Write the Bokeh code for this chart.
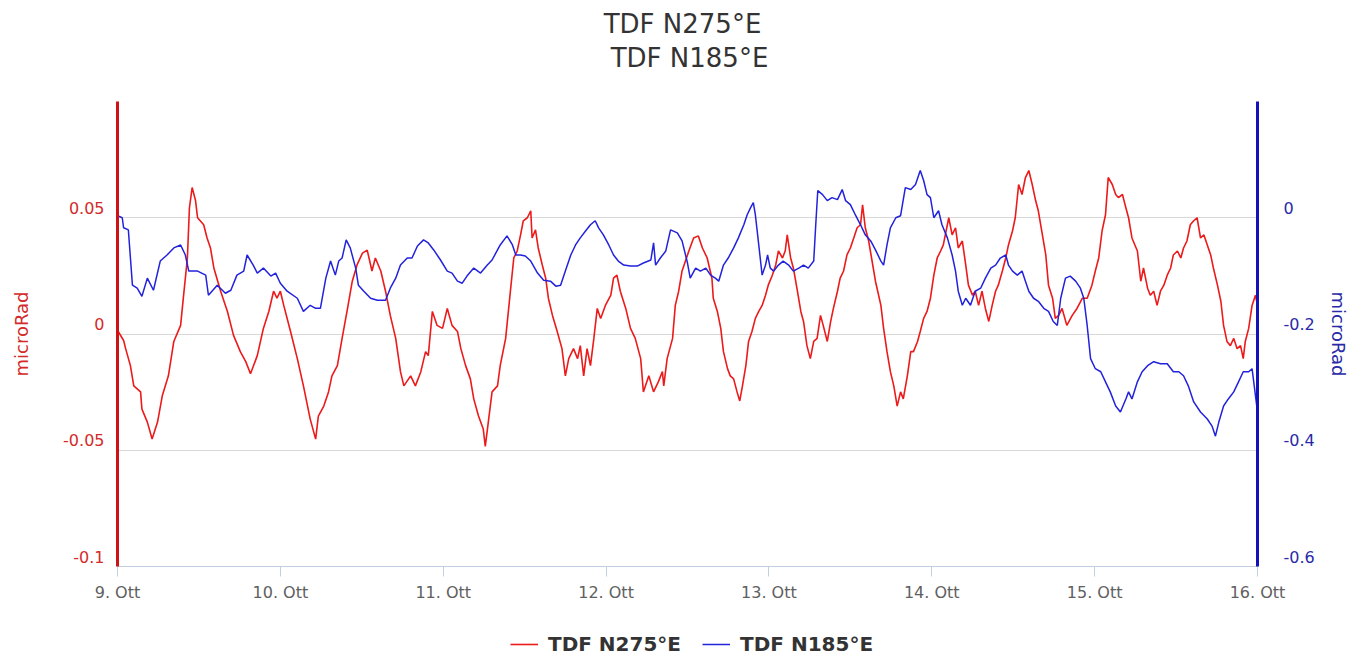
import math

from bokeh.embed import file_html
from bokeh.layouts import column
from bokeh.models import (FixedTicker, Grid, Label, Legend, LegendItem,
                          LinearAxis, Range1d)
from bokeh.plotting import figure
from bokeh.resources import INLINE

# Hours since 9 Oct 00:00 and tilt in microRad, TDF N275°E component (left axis)
tdf_n275e = [
    (0.0, 0.0016), (0.9, -0.0028), (1.2, -0.0063), (1.9, -0.0136), (2.4, -0.0223),
    (3.4, -0.0249), (3.6, -0.0323), (4.4, -0.0379), (5.1, -0.0452), (5.9, -0.0379),
    (6.6, -0.0266), (7.5, -0.0180), (8.3, -0.0032), (9.3, 0.0037), (9.7, 0.0154),
    (10.3, 0.0327), (10.6, 0.0543), (11.0, 0.0630), (11.5, 0.0574), (11.8, 0.0500),
    (12.7, 0.0470), (13.2, 0.0413), (13.7, 0.0370), (14.2, 0.0284), (15.2, 0.0184),
    (16.2, 0.0097), (17.1, -0.0006), (18.1, -0.0076), (18.9, -0.0119), (19.6, -0.0171),
    (20.6, -0.0093), (21.5, 0.0024), (22.3, 0.0097), (23.0, 0.0184), (23.5, 0.0154),
    (24.0, 0.0184), (24.5, 0.0123), (25.5, 0.0011), (26.5, -0.0106), (27.4, -0.0223),
    (28.4, -0.0366), (29.2, -0.0452), (29.6, -0.0353), (30.4, -0.0310), (31.1, -0.0249),
    (31.6, -0.0180), (32.4, -0.0136), (33.1, -0.0019), (33.9, 0.0110), (34.6, 0.0227),
    (35.3, 0.0297), (36.1, 0.0348), (36.8, 0.0361), (37.5, 0.0271), (38.0, 0.0327),
    (38.8, 0.0271), (39.5, 0.0184), (40.2, 0.0080), (41.0, -0.0019), (41.7, -0.0162),
    (42.2, -0.0223), (43.2, -0.0180), (43.9, -0.0223), (44.7, -0.0162), (45.4, -0.0076),
    (45.8, -0.0093), (46.4, 0.0097), (47.1, 0.0037), (47.9, 0.0024), (48.6, 0.0110),
    (49.3, 0.0037), (50.1, 0.0011), (50.6, -0.0063), (51.3, -0.0136), (52.0, -0.0193),
    (52.5, -0.0279), (53.2, -0.0353), (53.9, -0.0409), (54.2, -0.0483), (54.7, -0.0366),
    (55.2, -0.0249), (56.0, -0.0223), (56.4, -0.0136), (57.2, -0.0019), (57.9, 0.0184),
    (58.4, 0.0327), (58.9, 0.0357), (59.4, 0.0426), (59.8, 0.0487), (60.4, 0.0500),
    (60.9, 0.0530), (61.1, 0.0413), (61.6, 0.0448), (62.0, 0.0370), (62.6, 0.0297),
    (63.1, 0.0240), (63.5, 0.0154), (64.1, 0.0080), (64.8, 0.0011), (65.5, -0.0063),
    (66.0, -0.0180), (66.5, -0.0106), (67.2, -0.0063), (67.8, -0.0106), (68.2, -0.0050),
    (68.7, -0.0180), (69.2, -0.0063), (69.7, -0.0136), (70.2, -0.0019), (70.7, 0.0110),
    (71.2, 0.0067), (71.9, 0.0123), (72.7, 0.0167), (73.1, 0.0240), (73.6, 0.0253),
    (74.1, 0.0184), (74.9, 0.0110), (75.6, 0.0024), (76.3, -0.0019), (77.1, -0.0106),
    (77.5, -0.0249), (78.3, -0.0180), (79.0, -0.0249), (79.7, -0.0206), (80.3, -0.0162),
    (80.5, -0.0223), (81.0, -0.0106), (81.8, -0.0019), (82.2, 0.0123), (82.7, 0.0184),
    (83.2, 0.0271), (84.2, 0.0357), (84.9, 0.0413), (85.6, 0.0422), (86.2, 0.0370),
    (86.9, 0.0327), (87.6, 0.0240), (87.8, 0.0154), (88.4, 0.0097), (88.9, 0.0024),
    (89.3, -0.0076), (89.9, -0.0149), (90.3, -0.0180), (90.8, -0.0193), (91.3, -0.0249),
    (91.7, -0.0288), (92.1, -0.0223), (92.6, -0.0136), (93.0, -0.0032), (93.5, 0.0011),
    (94.0, 0.0067), (94.5, 0.0097), (95.0, 0.0123), (95.5, 0.0167), (95.9, 0.0210),
    (96.5, 0.0253), (97.0, 0.0297), (97.4, 0.0357), (98.0, 0.0327), (98.4, 0.0357),
    (98.7, 0.0426), (99.2, 0.0327), (99.6, 0.0284), (100.2, 0.0184), (100.7, 0.0097),
    (101.1, 0.0054), (101.6, -0.0050), (102.1, -0.0106), (102.6, -0.0032), (103.1, -0.0019),
    (103.6, 0.0080), (104.0, 0.0037), (104.6, -0.0032), (105.1, 0.0054), (105.5, 0.0110),
    (106.1, 0.0184), (106.5, 0.0240), (107.0, 0.0271), (107.5, 0.0340), (108.0, 0.0370),
    (108.5, 0.0413), (109.0, 0.0457), (109.5, 0.0470), (109.8, 0.0556), (110.2, 0.0457),
    (110.7, 0.0400), (111.2, 0.0314), (111.7, 0.0227), (112.5, 0.0123), (112.9, 0.0024),
    (113.4, -0.0076), (113.9, -0.0162), (114.4, -0.0223), (114.9, -0.0310), (115.4, -0.0249),
    (115.8, -0.0279), (116.4, -0.0180), (116.9, -0.0076), (117.3, -0.0076), (117.9, -0.0032),
    (118.3, 0.0011), (118.8, 0.0067), (119.3, 0.0097), (119.8, 0.0154), (120.3, 0.0253),
    (120.8, 0.0327), (121.3, 0.0357), (121.7, 0.0383), (122.5, 0.0500), (123.0, 0.0426),
    (123.5, 0.0457), (123.9, 0.0370), (124.5, 0.0400), (125.0, 0.0297), (125.4, 0.0210),
    (126.0, 0.0167), (126.4, 0.0184), (126.9, 0.0123), (127.4, 0.0184), (127.9, 0.0110),
    (128.4, 0.0054), (128.9, 0.0123), (129.4, 0.0184), (129.8, 0.0210), (130.4, 0.0271),
    (130.9, 0.0327), (131.3, 0.0383), (131.9, 0.0444), (132.3, 0.0500), (132.8, 0.0643),
    (133.3, 0.0600), (133.8, 0.0673), (134.3, 0.0703), (134.8, 0.0643), (135.3, 0.0574),
    (135.7, 0.0530), (136.3, 0.0426), (136.8, 0.0340), (137.2, 0.0210), (137.8, 0.0154),
    (138.2, 0.0067), (138.7, 0.0080), (139.2, 0.0110), (139.9, 0.0037), (140.7, 0.0080),
    (141.4, 0.0110), (142.2, 0.0154), (142.9, 0.0154), (143.6, 0.0210), (144.1, 0.0271),
    (144.6, 0.0327), (145.1, 0.0444), (145.6, 0.0513), (146.0, 0.0673), (146.6, 0.0643),
    (147.1, 0.0600), (147.5, 0.0587), (148.1, 0.0600), (148.6, 0.0543), (149.0, 0.0500),
    (149.5, 0.0413), (150.3, 0.0357), (150.8, 0.0227), (151.2, 0.0284), (151.8, 0.0197),
    (152.2, 0.0167), (152.7, 0.0184), (153.2, 0.0123), (153.7, 0.0184), (154.2, 0.0210),
    (154.7, 0.0253), (155.2, 0.0284), (155.6, 0.0340), (156.2, 0.0357), (156.7, 0.0327),
    (157.1, 0.0370), (157.6, 0.0400), (158.1, 0.0470), (158.6, 0.0487), (159.1, 0.0500),
    (159.6, 0.0413), (160.1, 0.0426), (160.6, 0.0383), (161.1, 0.0340), (161.5, 0.0284),
    (162.1, 0.0210), (162.6, 0.0141), (163.0, 0.0037), (163.5, -0.0032), (164.0, -0.0050),
    (164.5, -0.0019), (165.0, -0.0063), (165.5, -0.0050), (165.9, -0.0106), (166.2, -0.0032),
    (166.7, 0.0024), (167.2, 0.0123), (167.7, 0.0167), (168.0, 0.0123),
]

# Hours since 9 Oct 00:00 and tilt in microRad, TDF N185°E component (right axis)
tdf_n185e = [
    (0.0, 0.0035), (0.7, 0.0), (0.9, -0.0173), (1.6, -0.0208), (2.2, -0.1160),
    (2.9, -0.1212), (3.6, -0.1351), (4.4, -0.1039), (5.3, -0.1247), (6.3, -0.0745),
    (7.3, -0.0641), (8.3, -0.0519), (9.3, -0.0468), (10.0, -0.0641), (10.5, -0.0918),
    (11.8, -0.0918), (13.0, -0.0987), (13.4, -0.1333), (14.7, -0.1160), (15.9, -0.1299),
    (16.7, -0.1247), (17.6, -0.0987), (18.6, -0.0918), (19.1, -0.0641), (20.0, -0.0814),
    (20.6, -0.0952), (21.5, -0.0866), (22.6, -0.1004), (23.3, -0.0952), (24.0, -0.1126),
    (25.0, -0.1264), (26.5, -0.1385), (27.4, -0.1610), (28.4, -0.1506), (29.2, -0.1558),
    (29.9, -0.1558), (30.7, -0.1039), (31.4, -0.0745), (32.1, -0.0987), (32.6, -0.0745),
    (33.1, -0.0693), (33.7, -0.0381), (34.3, -0.0519), (35.1, -0.0866), (35.5, -0.1160),
    (36.3, -0.1264), (37.3, -0.1385), (38.3, -0.1420), (39.5, -0.1420), (40.2, -0.1212),
    (41.0, -0.1039), (41.7, -0.0814), (42.7, -0.0693), (43.4, -0.0693), (44.2, -0.0485),
    (45.1, -0.0381), (45.8, -0.0433), (46.6, -0.0554), (47.6, -0.0727), (48.6, -0.0918),
    (49.3, -0.0952), (50.1, -0.1091), (50.8, -0.1126), (51.5, -0.1004), (52.5, -0.0866),
    (53.5, -0.0952), (54.5, -0.0814), (55.2, -0.0727), (56.0, -0.0554), (56.4, -0.0468),
    (57.4, -0.0312), (58.2, -0.0468), (58.7, -0.0641), (59.4, -0.0641), (60.1, -0.0658),
    (60.9, -0.0745), (61.9, -0.0952), (62.8, -0.1074), (63.8, -0.1091), (64.6, -0.1177),
    (65.3, -0.1160), (66.0, -0.0918), (66.8, -0.0641), (67.5, -0.0468), (68.2, -0.0346),
    (69.0, -0.0225), (69.7, -0.0121), (70.4, -0.0052), (70.9, -0.0173), (71.6, -0.0294),
    (72.4, -0.0468), (73.1, -0.0641), (73.8, -0.0745), (74.6, -0.0814), (75.6, -0.0831),
    (76.6, -0.0831), (77.5, -0.0779), (78.6, -0.0727), (79.0, -0.0433), (79.3, -0.0814),
    (80.0, -0.0693), (80.8, -0.0571), (81.5, -0.0208), (82.5, -0.0260), (83.2, -0.0398),
    (84.0, -0.0779), (84.4, -0.1039), (85.2, -0.0866), (85.9, -0.0918), (86.7, -0.0866),
    (87.4, -0.0987), (88.1, -0.1039), (88.6, -0.1091), (89.3, -0.0814), (90.0, -0.0693),
    (90.8, -0.0519), (91.5, -0.0346), (92.3, -0.0121), (92.8, 0.0052), (93.3, 0.0173),
    (93.7, 0.0260), (94.0, 0.0052), (94.5, -0.0468), (95.0, -0.0987), (95.5, -0.0814),
    (95.8, -0.0641), (96.2, -0.0866), (96.7, -0.0918), (97.4, -0.0814), (98.1, -0.0745),
    (98.9, -0.0814), (99.6, -0.0918), (100.4, -0.0866), (101.1, -0.0814), (101.8, -0.0866),
    (102.6, -0.0745), (102.9, -0.0121), (103.2, 0.0468), (103.9, 0.0398), (104.6, 0.0294),
    (105.3, 0.0346), (106.1, 0.0312), (106.8, 0.0485), (107.3, 0.0294), (108.0, 0.0225),
    (108.8, 0.0035), (109.5, -0.0121), (110.2, -0.0294), (111.0, -0.0398), (111.7, -0.0554),
    (112.5, -0.0745), (112.9, -0.0814), (113.4, -0.0468), (113.9, -0.0173), (114.7, 0.0),
    (115.4, 0.0035), (116.1, 0.0519), (116.9, 0.0485), (117.6, 0.0571), (118.3, 0.0814),
    (118.8, 0.0641), (119.3, 0.0398), (119.8, 0.0346), (120.3, 0.0), (121.0, 0.0121),
    (121.5, -0.0121), (122.3, -0.0346), (123.0, -0.0641), (123.5, -0.0918), (123.9, -0.1264),
    (124.5, -0.1506), (125.0, -0.1385), (125.7, -0.1506), (126.4, -0.1264), (127.2, -0.1212),
    (127.9, -0.1039), (128.7, -0.0866), (129.4, -0.0814), (130.1, -0.0693), (130.9, -0.0641),
    (131.3, -0.0814), (131.9, -0.0918), (132.6, -0.0987), (133.3, -0.0918), (133.8, -0.1091),
    (134.3, -0.1264), (135.0, -0.1385), (135.7, -0.1437), (136.5, -0.1558), (137.2, -0.1610),
    (137.9, -0.1784), (138.5, -0.1853), (139.0, -0.1385), (139.7, -0.1039), (140.4, -0.1004),
    (141.2, -0.1091), (141.9, -0.1212), (142.4, -0.1385), (142.9, -0.1853), (143.4, -0.2424),
    (144.1, -0.2597), (144.9, -0.2649), (145.6, -0.2823), (146.3, -0.2996), (147.1, -0.3238),
    (147.8, -0.3342), (148.6, -0.3117), (149.0, -0.2996), (149.5, -0.3117), (150.3, -0.2823),
    (151.0, -0.2649), (151.8, -0.2545), (152.7, -0.2476), (153.7, -0.2511), (154.7, -0.2511),
    (155.6, -0.2649), (156.4, -0.2649), (157.1, -0.2719), (157.8, -0.2892), (158.6, -0.3169),
    (159.6, -0.3342), (160.6, -0.3463), (161.3, -0.3584), (161.8, -0.3758), (162.3, -0.3515),
    (163.0, -0.3238), (163.7, -0.3117), (164.5, -0.2996), (165.2, -0.2823), (165.9, -0.2649),
    (166.7, -0.2649), (167.2, -0.2597), (168.0, -0.3342),
]

day_ticks = [0, 24, 48, 72, 96, 120, 144, 168]
day_labels = ["9. Ott", "10. Ott", "11. Ott", "12. Ott", "13. Ott", "14. Ott", "15. Ott", "16. Ott"]
left_ticks = [0.05, 0.0, -0.05, -0.1]
left_labels = ["0.05", "0", "-0.05", "-0.1"]
right_ticks = [0.0, -0.2, -0.4, -0.6]
right_labels = ["0", "-0.2", "-0.4", "-0.6"]
grid_ticks = [-0.05, 0.0, 0.05, 0.1]
title_lines = ["TDF N275°E", "TDF N185°E"]
series_names = ["TDF N275°E", "TDF N185°E"]

RED = "#ec1a1a"
BLUE = "#2222dd"
RED_AXIS = "#cc1414"
BLUE_AXIS = "#1212b8"
RED_TEXT = "#d42a2a"
BLUE_TEXT = "#2a2aa8"
FONT = "DejaVu Sans"

LEFT_MIN, LEFT_MAX = -0.1, 0.1
RIGHT_MIN, RIGHT_MAX = -0.6, 0.2
FRAME_H = 465
LIFT_PX = 10  # tick labels sit this far above their grid lines
TITLE_H = 96
LEGEND_H = 50

x_range = Range1d(0, 168)

# ---- title strip -------------------------------------------------------
t = figure(width=1352, height=TITLE_H, x_range=x_range, y_range=Range1d(0, TITLE_H),
           x_axis_location=None, y_axis_location=None, title=None,
           output_backend="svg", toolbar_location=None, min_border=0)
t.outline_line_color = None
t.grid.visible = False
for txt, base_px, dx in zip(title_lines, [73, 39], [-5, 2]):
    t.add_layout(Label(x=84, y=base_px, x_offset=dx, text=txt,
                       text_align="center", text_baseline="alphabetic",
                       text_color="#333333", text_font=FONT, text_font_size="26px"))

# ---- main chart --------------------------------------------------------
p = figure(
    width=1352, height=5 + FRAME_H + 39, title=None,
    x_range=x_range, y_range=Range1d(LEFT_MIN, LEFT_MAX),
    y_axis_location=None,
    output_backend="svg", toolbar_location=None,
    min_border_left=117, min_border_right=95,
    min_border_top=5, min_border_bottom=39,
)
p.outline_line_color = None
p.xgrid.visible = False

# Label ranges are shifted by a few pixels so each value label rides above its line
lift_l = (LEFT_MAX - LEFT_MIN) / FRAME_H * LIFT_PX
lift_r = (RIGHT_MAX - RIGHT_MIN) / FRAME_H * LIFT_PX
p.extra_y_ranges = {
    "right": Range1d(RIGHT_MIN, RIGHT_MAX),
    "left_lbl": Range1d(LEFT_MIN - lift_l, LEFT_MAX - lift_l),
    "right_lbl": Range1d(RIGHT_MIN - lift_r, RIGHT_MAX - lift_r),
}

p.add_layout(Grid(dimension=1, ticker=FixedTicker(ticks=grid_ticks),
                  grid_line_color="#d8d8d8", grid_line_width=1))


def value_axis(range_name, ticks, labels, line_color, text_color, label_gap, title_gap):
    return LinearAxis(
        y_range_name=range_name, ticker=FixedTicker(ticks=ticks),
        major_label_overrides={t: s for t, s in zip(ticks, labels)},
        axis_line_color=line_color, axis_line_width=3,
        major_tick_line_color=None, minor_tick_line_color=None,
        major_tick_out=0, major_tick_in=0,
        major_label_standoff=label_gap,
        major_label_text_color=text_color, major_label_text_font=FONT,
        major_label_text_font_size="16px",
        axis_label="microRad", axis_label_text_color=text_color,
        axis_label_text_font=FONT, axis_label_text_font_size="18px",
        axis_label_text_font_style="normal", axis_label_standoff=title_gap,
    )


p.add_layout(value_axis("left_lbl", left_ticks, left_labels,
                        RED_AXIS, RED_TEXT, 13, 28), "left")
p.add_layout(value_axis("right_lbl", right_ticks, right_labels,
                        BLUE_AXIS, BLUE_TEXT, 26, 10), "right")

# Bottom axis with day labels
p.xaxis.ticker = FixedTicker(ticks=day_ticks)
p.xaxis.major_label_overrides = {t: s for t, s in zip(day_ticks, day_labels)}
p.xaxis.axis_line_color = "#c0d0e0"
p.xaxis.major_tick_line_color = "#c0d0e0"
p.xaxis.major_tick_out = 10
p.xaxis.major_tick_in = 0
p.xaxis.minor_tick_line_color = None
p.xaxis.major_label_text_font = FONT
p.xaxis.major_label_text_font_size = "16px"
p.xaxis.major_label_text_color = "#606060"
p.xaxis.major_label_standoff = 6

# Series
p.line([h for h, _ in tdf_n275e], [v for _, v in tdf_n275e],
       line_color=RED, line_width=1.6)
p.line([h for h, _ in tdf_n185e], [v for _, v in tdf_n185e],
       line_color=BLUE, line_width=1.5, y_range_name="right")

# ---- legend strip ------------------------------------------------------
q = figure(width=1352, height=LEGEND_H, x_range=Range1d(0, 1), y_range=Range1d(0, 1),
           x_axis_location=None, y_axis_location=None, title=None,
           output_backend="svg", toolbar_location=None, min_border=0)
q.outline_line_color = None
q.grid.visible = False
k_red = q.line([math.nan], [math.nan], line_color=RED, line_width=1.6)
k_blue = q.line([math.nan], [math.nan], line_color=BLUE, line_width=1.5)
legend = Legend(
    items=[LegendItem(label=series_names[0], renderers=[k_red]),
           LegendItem(label=series_names[1], renderers=[k_blue])],
    orientation="horizontal", location=(393, -1),
    glyph_width=28, label_standoff=10, spacing=21, padding=0, margin=0,
    border_line_color=None, background_fill_alpha=0,
    label_text_font=FONT, label_text_font_style="bold",
    label_text_font_size="20px", label_text_color="#333333",
)
q.add_layout(legend)

open("out.html", "w").write(file_html(column(t, p, q, spacing=0), INLINE))
